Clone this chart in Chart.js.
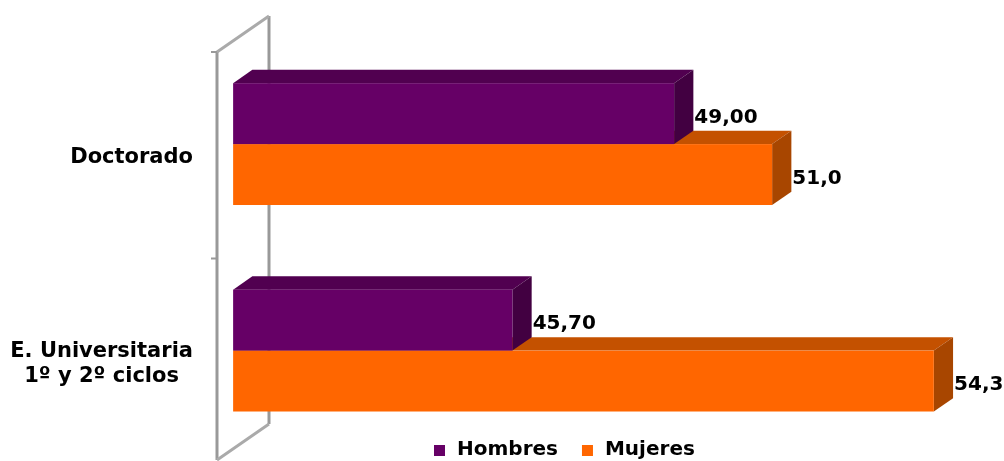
<!DOCTYPE html>
<html>
<head>
<meta charset="utf-8">
<script src="https://cdn.jsdelivr.net/npm/chart.js@4/dist/chart.umd.min.js"></script>
<style>
  html, body { margin: 0; padding: 0; background: #fff; overflow: hidden; }
  #wrap { width: 1004px; height: 461px; overflow: hidden; }
</style>
</head>
<body>
<div id="wrap"><canvas id="c" width="1004" height="465"></canvas></div>
<script>
// data
const categories = ['Doctorado', ['E. Universitaria', '1º y 2º ciclos']]
const hombres = [49.0, 45.7]
const mujeres = [51.0, 54.3]
const hombresLabels = ['49,00', '45,70']
const mujeresLabels = ['51,0', '54,3']
const seriesNames = ['Hombres', 'Mujeres']

// colours: front, top, side
const faces = [
    ['#660066', '#510050', '#420041'],
    ['#ff6600', '#c45100', '#a84600']
]
const valueLabels = [hombresLabels, mujeresLabels]

const FONT = 'bold 20px "DejaVu Sans"'
const DEPTH = { x: 52, y: -36 }   // depth of the wall
const F1 = 0.31, F2 = 0.68         // where the bars sit inside the depth

const bar3d = {
    id: 'bar3d',
    beforeDatasetsDraw(chart) {
        const ctx = chart.ctx
        const area = chart.chartArea
        const yScale = chart.scales.y
        const x0 = area.left
        const slot = (area.bottom - area.top) / chart.data.labels.length
        const wallBottom = area.bottom - 5

        // wall
        ctx.save()
        ctx.strokeStyle = '#999'
        ctx.lineWidth = 3
        ctx.beginPath()
        ctx.moveTo(x0, area.top); ctx.lineTo(x0, wallBottom)
        ctx.moveTo(x0 + DEPTH.x, area.top + DEPTH.y); ctx.lineTo(x0 + DEPTH.x, wallBottom + DEPTH.y)
        ctx.stroke()
        ctx.strokeStyle = '#aaa'
        ctx.beginPath()
        ctx.moveTo(x0, area.top); ctx.lineTo(x0 + DEPTH.x, area.top + DEPTH.y)
        ctx.moveTo(x0, wallBottom); ctx.lineTo(x0 + DEPTH.x, wallBottom + DEPTH.y)
        ctx.stroke()
        ctx.strokeStyle = '#999'
        ctx.lineWidth = 2
        ctx.beginPath()
        chart.data.labels.forEach((l, i) => {
            const ty = yScale.getPixelForValue(i) - slot / 2
            ctx.moveTo(x0 - 6, ty); ctx.lineTo(x0, ty)
        })
        ctx.stroke()

        // bars, drawn from the bottom up so the upper ones cover the lower ones
        const fx = DEPTH.x * F1, fy = DEPTH.y * F1
        const bx = DEPTH.x * F2, by = DEPTH.y * F2
        const n = chart.data.labels.length
        const nd = chart.data.datasets.length
        for (let j = n - 1; j >= 0; j--) {
            for (let i = nd - 1; i >= 0; i--) {
                const el = chart.getDatasetMeta(i).data[j]
                const top = el.y - el.height / 2
                const bot = el.y + el.height / 2
                const [cf, ct, cs] = faces[i]
                // top
                ctx.fillStyle = ct
                ctx.beginPath()
                ctx.moveTo(el.base + fx, top + fy)
                ctx.lineTo(el.x + fx, top + fy)
                ctx.lineTo(el.x + bx, top + by)
                ctx.lineTo(el.base + bx, top + by)
                ctx.closePath()
                ctx.fill()
                // side
                ctx.fillStyle = cs
                ctx.beginPath()
                ctx.moveTo(el.x + fx, top + fy)
                ctx.lineTo(el.x + bx, top + by)
                ctx.lineTo(el.x + bx, bot + by)
                ctx.lineTo(el.x + fx, bot + fy)
                ctx.closePath()
                ctx.fill()
                // front
                ctx.fillStyle = cf
                ctx.fillRect(el.base + fx, top + fy, el.x - el.base, bot - top)
            }
        }

        // value labels
        ctx.fillStyle = '#000'
        ctx.font = FONT
        ctx.textAlign = 'left'
        ctx.textBaseline = 'middle'
        for (let i = 0; i < nd; i++) {
            chart.getDatasetMeta(i).data.forEach((el, j) => {
                ctx.fillText(valueLabels[i][j], el.x + bx + 1, el.y + fy + 4)
            })
        }

        // category labels: block right-aligned, lines centred
        ctx.font = 'bold 21px "DejaVu Sans"'
        ctx.textAlign = 'center'
        const right = x0 - 24
        chart.data.labels.forEach((lab, i) => {
            const lines = Array.isArray(lab) ? lab : [lab]
            const w = Math.max(...lines.map(s => ctx.measureText(s).width))
            const cx = right - w / 2
            const cy = yScale.getPixelForValue(i) + 2
            lines.forEach((s, k) => {
                ctx.fillText(s, cx, cy + (k - (lines.length - 1) / 2) * 25)
            })
        })

        // legend
        ctx.font = FONT
        ctx.textAlign = 'left'
        let lx = 434
        const ly = 450
        chart.data.datasets.forEach((ds, i) => {
            ctx.fillStyle = faces[i][0]
            ctx.fillRect(lx, ly - 5, 11, 11)
            ctx.fillStyle = '#000'
            ctx.fillText(ds.label, lx + 23, ly)
            lx += 23 + ctx.measureText(ds.label).width + 24
        })
        ctx.restore()
        return false
    }
}

const ctx = document.getElementById('c').getContext('2d')
new Chart(ctx, {
    type: 'bar',
    data: {
        labels: categories,
        datasets: [
            { label: seriesNames[0], data: hombres, backgroundColor: faces[0][0] },
            { label: seriesNames[1], data: mujeres, backgroundColor: faces[1][0] }
        ]
    },
    options: {
        indexAxis: 'y',
        responsive: false,
        animation: false,
        layout: { padding: { left: 0, right: 3, top: 52, bottom: 0 } },
        datasets: { bar: { categoryPercentage: 0.59, barPercentage: 1, base: 40 } },
        scales: {
            x: { display: false, min: 40, max: 56 },
            y: {
                afterFit: (scale) => { scale.width = 217 },
                ticks: { display: false },
                grid: { display: false },
                border: { display: false }
            }
        },
        plugins: {
            legend: { display: false },
            tooltip: { enabled: false }
        }
    },
    plugins: [bar3d]
})
</script>
</body>
</html>
